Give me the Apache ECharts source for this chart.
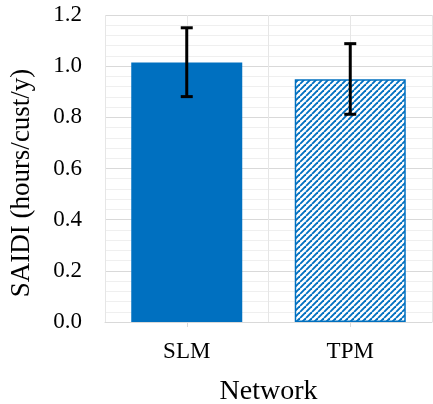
<!DOCTYPE html>
<html>
<head>
<meta charset="utf-8">
<script src="https://cdn.jsdelivr.net/npm/echarts@6/dist/echarts.min.js"></script>
<style>html,body{margin:0;padding:0;background:#fff}#c{width:433px;height:404px}</style>
</head>
<body>
<div id="c"></div>
<script>
var categories = ['SLM', 'TPM'];
var saidi = [1.014, 0.949];
var errLow = [0.881, 0.812];
var errHigh = [1.150, 1.088];
var yTicks = ['0.0', '0.2', '0.4', '0.6', '0.8', '1.0', '1.2'];
var yTitle = 'SAIDI (hours/cust/y)';
var xTitle = 'Network';

var blue = '#0070C0';
var font = '"Liberation Serif", "Times New Roman", serif';

// diagonal hatch pattern
var T = 6;
var tile = document.createElement('canvas');
tile.width = T; tile.height = T;
var g = tile.getContext('2d');
g.fillStyle = '#fff'; g.fillRect(0, 0, T, T);
g.strokeStyle = blue; g.lineWidth = 1.9;
for (var k = -T; k <= T; k += T) {
  g.beginPath(); g.moveTo(k, T); g.lineTo(k + T, 0); g.stroke();
}

var chart = echarts.init(document.getElementById('c'));
chart.setOption({
  animation: false,
  grid: { left: 105, right: 1, top: 15, bottom: 82, containLabel: false, outerBoundsMode: 'none' },
  xAxis: [{
    type: 'category',
    data: categories,
    axisLine: { show: true, lineStyle: { color: '#d9d9d9', width: 1 } },
    axisTick: { show: true, alignWithLabel: true, length: 5, lineStyle: { color: '#d9d9d9' } },
    axisLabel: { color: '#000', fontFamily: font, fontSize: 23, margin: 18 },
    splitLine: { show: false },
    name: xTitle,
    nameLocation: 'middle',
    nameGap: 56,
    nameTextStyle: { color: '#000', fontFamily: font, fontSize: 28 }
  }, {
    type: 'category',
    data: ['', '', '', ''],
    position: 'bottom',
    axisLine: { show: false }, axisTick: { show: false }, axisLabel: { show: false },
    splitLine: { show: true, lineStyle: { color: '#e6e6e6', width: 1 } }
  }],
  yAxis: {
    type: 'value',
    min: 0, max: 1.2, interval: 0.2,
    axisLine: { show: false }, axisTick: { show: false },
    axisLabel: {
      color: '#000', fontFamily: font, fontSize: 23, margin: 23,
      formatter: function (v) { return yTicks[Math.round(v / 0.2)]; }
    },
    splitLine: { show: true, lineStyle: { color: '#d9d9d9', width: 1 } },
    minorTick: { show: false, splitNumber: 5 },
    minorSplitLine: { show: true, lineStyle: { color: '#efefef', width: 1 } }
  },
  graphic: [{
    type: 'text',
    x: 22, y: 183, rotation: Math.PI / 2,
    style: {
      text: yTitle, fill: '#000', font: '27px ' + font,
      textAlign: 'center', textVerticalAlign: 'middle'
    }
  }],
  series: [{
    type: 'bar',
    barWidth: 111,
    data: [
      { value: saidi[0], itemStyle: { color: blue } },
      { value: saidi[1], itemStyle: { color: { image: tile, repeat: 'repeat' }, borderColor: blue, borderWidth: 1.5 } }
    ]
  }, {
    type: 'custom',
    data: categories.map(function (c, i) { return [i, errLow[i], errHigh[i]]; }),
    renderItem: function (params, api) {
      var lo = api.coord([api.value(0), api.value(1)]);
      var hi = api.coord([api.value(0), api.value(2)]);
      var cap = 6;
      var st = { stroke: '#000', lineWidth: 3 };
      return {
        type: 'group',
        children: [
          { type: 'line', shape: { x1: lo[0], y1: lo[1], x2: hi[0], y2: hi[1] }, style: st },
          { type: 'line', shape: { x1: lo[0] - cap, y1: lo[1], x2: lo[0] + cap, y2: lo[1] }, style: st },
          { type: 'line', shape: { x1: hi[0] - cap, y1: hi[1], x2: hi[0] + cap, y2: hi[1] }, style: st }
        ]
      };
    },
    z: 10
  }]
});
</script>
</body>
</html>
